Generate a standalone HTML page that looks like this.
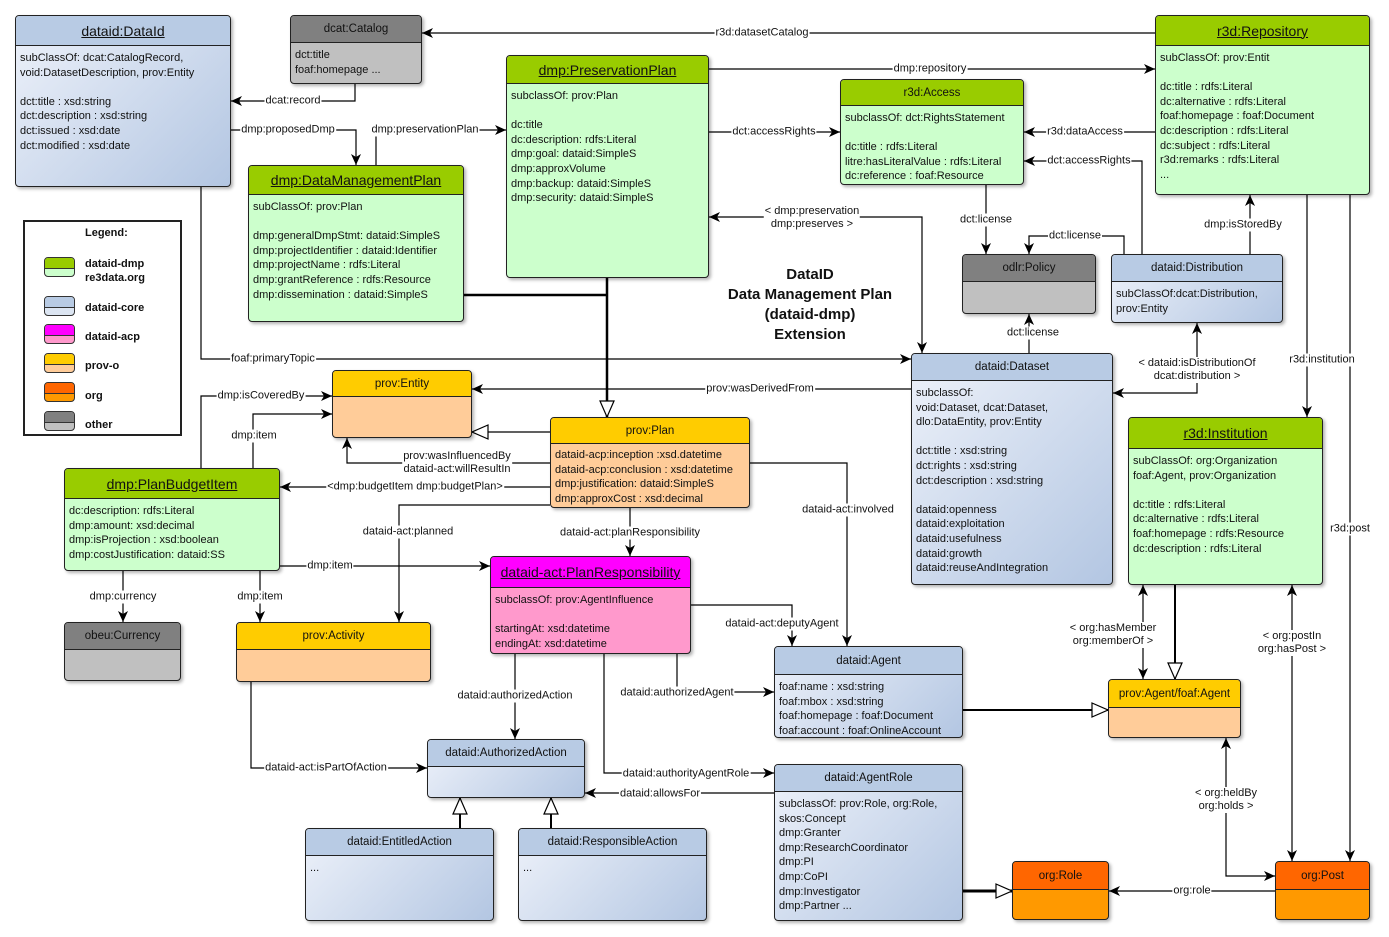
<!DOCTYPE html>
<html><head><meta charset="utf-8"><style>
body{margin:0;width:1389px;height:937px;background:#fff;position:relative;overflow:hidden;font-family:"Liberation Sans",sans-serif;font-size:11px;color:#111}
.b{position:absolute;border:1px solid #222;border-radius:4px;box-shadow:2px 2px 3px rgba(0,0,0,.3);overflow:hidden;box-sizing:border-box}
.h{border-bottom:1px solid #222;text-align:center;box-sizing:border-box;display:flex;align-items:center;justify-content:center;font-size:11.5px}
.h.big{font-size:14px;text-decoration:underline}
.c{padding:5px 4px;line-height:14.6px;white-space:nowrap}
.G .h{background:#99cc00}.G{background:#ccffcc}
.B .h{background:#b8cbe4}.B{background:linear-gradient(135deg,#eef2fa,#b3c6e2)}
.Y .h{background:#ffcc00}.Y{background:#ffcc99}
.O .h{background:#ff6600}.O{background:#ff9900}
.M .h{background:#ff00ff}.M{background:#ff99cc}
.X .h{background:#808080}.X{background:#c0c0c0}
.l{position:absolute;transform:translate(-50%,-50%);background:#fff;white-space:nowrap;text-align:center;line-height:13px;padding:0 1px}
svg{position:absolute;left:0;top:0}
.sw{position:absolute;left:44px;width:31px;height:20px;border:1px solid #333;border-radius:4px;box-sizing:border-box;overflow:hidden}
.sw i{display:block;height:10px;border-bottom:1px solid #333}
.lt{position:absolute;left:85px;font-weight:bold;font-size:11px;line-height:14px}
</style></head><body>
<svg width="1389" height="937">
<defs>
<marker id="a" markerWidth="12" markerHeight="10" refX="11" refY="5" orient="auto" markerUnits="userSpaceOnUse"><path d="M0,0 L11,5 L0,10 L3,5 Z" fill="#000"/></marker>
<marker id="s" markerWidth="12" markerHeight="10" refX="1" refY="5" orient="auto" markerUnits="userSpaceOnUse"><path d="M12,0 L1,5 L12,10 L9,5 Z" fill="#000"/></marker>
<marker id="t" markerWidth="18" markerHeight="16" refX="17" refY="8" orient="auto" markerUnits="userSpaceOnUse"><path d="M1,1 L17,8 L1,15 Z" fill="#fff" stroke="#000" stroke-width="1.2"/></marker>
</defs>
<g fill="none" stroke="#000" stroke-width="1.2">
<polyline points="1155,33 422,33" marker-end="url(#a)"/>
<polyline points="355,84 355,101 231,101" marker-end="url(#a)"/>
<polyline points="231,130 356,130 356,165" marker-end="url(#a)"/>
<polyline points="376,165 376,130 506,130" marker-end="url(#a)"/>
<polyline points="709,69 1155,69" marker-end="url(#a)"/>
<polyline points="709,132 840,132" marker-end="url(#a)"/>
<polyline points="1155,132 1024,132" marker-end="url(#a)"/>
<polyline points="1142,254 1142,161 1024,161" marker-end="url(#a)"/>
<polyline points="986,185 986,254" marker-end="url(#a)"/>
<polyline points="1124,254 1124,236 1029,236 1029,254" marker-end="url(#a)"/>
<polyline points="1029,353 1029,314" marker-end="url(#a)"/>
<polyline points="1250,254 1250,195" marker-end="url(#a)"/>
<polyline points="1197,323 1197,393 1113,393" marker-start="url(#s)" marker-end="url(#a)"/>
<polyline points="1307,195 1307,417" marker-end="url(#a)"/>
<polyline points="1350,195 1350,861" marker-end="url(#a)"/>
<polyline points="709,217 922,217 922,353" marker-start="url(#s)" marker-end="url(#a)"/>
<polyline points="201,187 201,359 911,359" marker-end="url(#a)"/>
<polyline points="911,389 472,389" marker-end="url(#a)"/>
<polyline points="550,463 347,463 347,438" marker-end="url(#a)"/>
<polyline points="201,468 201,396 332,396" marker-end="url(#a)"/>
<polyline points="253,468 253,414 332,414" marker-end="url(#a)"/>
<polyline points="550,487 280,487" marker-end="url(#a)"/>
<polyline points="550,505 399,505 399,622" marker-end="url(#a)"/>
<polyline points="630,508 630,556" marker-end="url(#a)"/>
<polyline points="750,463 847,463 847,646" marker-end="url(#a)"/>
<polyline points="280,566 490,566" marker-end="url(#a)"/>
<polyline points="123,571 123,622" marker-end="url(#a)"/>
<polyline points="260,571 260,622" marker-end="url(#a)"/>
<polyline points="691,605 792,605 792,646" marker-end="url(#a)"/>
<polyline points="515,654 515,739" marker-end="url(#a)"/>
<polyline points="677,654 677,692 774,692" marker-end="url(#a)"/>
<polyline points="604,654 604,773 774,773" marker-end="url(#a)"/>
<polyline points="774,793 585,793" marker-end="url(#a)"/>
<polyline points="251,682 251,768 427,768" marker-end="url(#a)"/>
<polyline points="1143,585 1143,679" marker-start="url(#s)" marker-end="url(#a)"/>
<polyline points="1292,585 1292,861" marker-start="url(#s)" marker-end="url(#a)"/>
<polyline points="1226,738 1226,876 1275,876" marker-start="url(#s)" marker-end="url(#a)"/>
<polyline points="1275,891 1109,891" marker-end="url(#a)"/>
<polyline points="550,432 472,432" marker-end="url(#t)"/>
<polyline points="460,828 460,798" stroke-width="2" marker-end="url(#t)"/>
<polyline points="551,828 551,798" stroke-width="2" marker-end="url(#t)"/>
<polyline points="963,710 1108,710" stroke-width="2" marker-end="url(#t)"/>
<polyline points="1175,585 1175,679" stroke-width="2" marker-end="url(#t)"/>
<polyline points="963,891 1012,891" stroke-width="3" marker-end="url(#t)"/>
<polyline points="464,295 607,295" stroke-width="2.5"/>
<polyline points="607,278 607,417" stroke-width="2.5" marker-end="url(#t)"/>
</g>
</svg>

<div class="b B" style="left:15px;top:15px;width:216px;height:172px"><div class="h big" style="height:30px">dataid:DataId</div><div class="c">subClassOf: dcat:CatalogRecord,<br>void:DatasetDescription, prov:Entity<br><br>dct:title : xsd:string<br>dct:description : xsd:string<br>dct:issued : xsd:date<br>dct:modified : xsd:date</div></div>
<div class="b X" style="left:290px;top:15px;width:132px;height:69px"><div class="h" style="height:27px">dcat:Catalog</div><div class="c">dct:title<br>foaf:homepage ...</div></div>
<div class="b G" style="left:506px;top:55px;width:203px;height:223px"><div class="h big" style="height:28px">dmp:PreservationPlan</div><div class="c">subclassOf: prov:Plan<br><br>dc:title<br>dc:description: rdfs:Literal<br>dmp:goal: dataid:SimpleS<br>dmp:approxVolume<br>dmp:backup: dataid:SimpleS<br>dmp:security: dataid:SimpleS</div></div>
<div class="b G" style="left:248px;top:165px;width:216px;height:157px"><div class="h big" style="height:29px">dmp:DataManagementPlan</div><div class="c">subClassOf: prov:Plan<br><br>dmp:generalDmpStmt: dataid:SimpleS<br>dmp:projectIdentifier : dataid:Identifier<br>dmp:projectName : rdfs:Literal<br>dmp:grantReference : rdfs:Resource<br>dmp:dissemination : dataid:SimpleS</div></div>
<div class="b G" style="left:840px;top:79px;width:184px;height:106px"><div class="h" style="height:26px">r3d:Access</div><div class="c">subclassOf: dct:RightsStatement<br><br>dc:title : rdfs:Literal<br>litre:hasLiteralValue : rdfs:Literal<br>dc:reference : foaf:Resource</div></div>
<div class="b G" style="left:1155px;top:15px;width:215px;height:180px"><div class="h big" style="height:30px">r3d:Repository</div><div class="c">subClassOf: prov:Entit<br><br>dc:title : rdfs:Literal<br>dc:alternative : rdfs:Literal<br>foaf:homepage : foaf:Document<br>dc:description : rdfs:Literal<br>dc:subject : rdfs:Literal<br>r3d:remarks : rdfs:Literal<br>...</div></div>
<div class="b X" style="left:962px;top:254px;width:134px;height:60px"><div class="h" style="height:27px">odlr:Policy</div></div>
<div class="b B" style="left:1111px;top:254px;width:172px;height:69px"><div class="h" style="height:27px">dataid:Distribution</div><div class="c">subClassOf:dcat:Distribution,<br>prov:Entity</div></div>
<div class="b B" style="left:911px;top:353px;width:202px;height:232px"><div class="h" style="height:27px">dataid:Dataset</div><div class="c">subclassOf:<br>void:Dataset, dcat:Dataset,<br>dlo:DataEntity, prov:Entity<br><br>dct:title : xsd:string<br>dct:rights : xsd:string<br>dct:description : xsd:string<br><br>dataid:openness<br>dataid:exploitation<br>dataid:usefulness<br>dataid:growth<br>dataid:reuseAndIntegration</div></div>
<div class="b Y" style="left:332px;top:370px;width:140px;height:68px"><div class="h" style="height:26px">prov:Entity</div></div>
<div class="b Y" style="left:550px;top:417px;width:200px;height:91px"><div class="h" style="height:26px">prov:Plan</div><div class="c" style="padding-top:4px">dataid-acp:inception :xsd.datetime<br>dataid-acp:conclusion : xsd:datetime<br>dmp:justification: dataid:SimpleS<br>dmp:approxCost : xsd:decimal</div></div>
<div class="b G" style="left:64px;top:468px;width:216px;height:103px"><div class="h big" style="height:30px">dmp:PlanBudgetItem</div><div class="c">dc:description: rdfs:Literal<br>dmp:amount: xsd:decimal<br>dmp:isProjection : xsd:boolean<br>dmp:costJustification: dataid:SS</div></div>
<div class="b G" style="left:1128px;top:417px;width:195px;height:168px"><div class="h big" style="height:31px">r3d:Institution</div><div class="c">subClassOf: org:Organization<br>foaf:Agent, prov:Organization<br><br>dc:title : rdfs:Literal<br>dc:alternative : rdfs:Literal<br>foaf:homepage : rdfs:Resource<br>dc:description : rdfs:Literal</div></div>
<div class="b M" style="left:490px;top:556px;width:201px;height:98px"><div class="h big" style="height:31px">dataid-act:PlanResponsibility</div><div class="c">subclassOf: prov:AgentInfluence<br><br>startingAt: xsd:datetime<br>endingAt: xsd:datetime</div></div>
<div class="b X" style="left:64px;top:622px;width:117px;height:59px"><div class="h" style="height:27px">obeu:Currency</div></div>
<div class="b Y" style="left:236px;top:622px;width:195px;height:60px"><div class="h" style="height:27px">prov:Activity</div></div>
<div class="b B" style="left:774px;top:646px;width:189px;height:92px"><div class="h" style="height:28px">dataid:Agent</div><div class="c" style="padding-top:5px">foaf:name : xsd:string<br>foaf:mbox : xsd:string<br>foaf:homepage : foaf:Document<br>foaf:account : foaf:OnlineAccount</div></div>
<div class="b Y" style="left:1108px;top:679px;width:133px;height:59px"><div class="h" style="height:28px">prov:Agent/foaf:Agent</div></div>
<div class="b B" style="left:427px;top:739px;width:158px;height:59px"><div class="h" style="height:27px">dataid:AuthorizedAction</div></div>
<div class="b B" style="left:774px;top:764px;width:189px;height:157px"><div class="h" style="height:27px">dataid:AgentRole</div><div class="c">subclassOf: prov:Role, org:Role,<br>skos:Concept<br>dmp:Granter<br>dmp:ResearchCoordinator<br>dmp:PI<br>dmp:CoPI<br>dmp:Investigator<br>dmp:Partner ...</div></div>
<div class="b B" style="left:305px;top:828px;width:189px;height:93px"><div class="h" style="height:27px">dataid:EntitledAction</div><div class="c">...</div></div>
<div class="b B" style="left:518px;top:828px;width:189px;height:93px"><div class="h" style="height:27px">dataid:ResponsibleAction</div><div class="c">...</div></div>
<div class="b O" style="left:1012px;top:861px;width:97px;height:59px"><div class="h" style="height:28px">org:Role</div></div>
<div class="b O" style="left:1275px;top:861px;width:95px;height:59px"><div class="h" style="height:28px">org:Post</div></div>

<div style="position:absolute;left:23px;top:220px;width:159px;height:216px;border:2px solid #222;box-sizing:border-box"></div>
<div style="position:absolute;left:85px;top:227px;font-weight:bold">Legend:</div>
<div class="sw" style="top:257px;background:#ccffcc"><i style="background:#99cc00"></i></div><div class="lt" style="top:257px">dataid-dmp<br>re3data.org</div>
<div class="sw" style="top:296px;background:#dce5f2"><i style="background:#b8cbe4"></i></div><div class="lt" style="top:301px">dataid-core</div>
<div class="sw" style="top:324px;background:#ff99cc"><i style="background:#ff00ff"></i></div><div class="lt" style="top:330px">dataid-acp</div>
<div class="sw" style="top:353px;background:#ffcc99"><i style="background:#ffcc00"></i></div><div class="lt" style="top:359px">prov-o</div>
<div class="sw" style="top:382px;background:#ff9900"><i style="background:#ff6600"></i></div><div class="lt" style="top:389px">org</div>
<div class="sw" style="top:411px;background:#c0c0c0"><i style="background:#808080"></i></div><div class="lt" style="top:418px">other</div>

<div style="position:absolute;left:700px;top:265px;width:220px;text-align:center;font-weight:bold;font-size:15px;line-height:20px">DataID<br>Data Management Plan<br>(dataid-dmp)<br>Extension</div>

<div class="l" style="left:762px;top:33px">r3d:datasetCatalog</div>
<div class="l" style="left:293px;top:101px">dcat:record</div>
<div class="l" style="left:288px;top:130px">dmp:proposedDmp</div>
<div class="l" style="left:425px;top:130px">dmp:preservationPlan</div>
<div class="l" style="left:930px;top:69px">dmp:repository</div>
<div class="l" style="left:774px;top:132px">dct:accessRights</div>
<div class="l" style="left:1085px;top:132px">r3d:dataAccess</div>
<div class="l" style="left:1089px;top:161px">dct:accessRights</div>
<div class="l" style="left:986px;top:220px">dct:license</div>
<div class="l" style="left:1075px;top:236px">dct:license</div>
<div class="l" style="left:1033px;top:333px">dct:license</div>
<div class="l" style="left:1243px;top:225px">dmp:isStoredBy</div>
<div class="l" style="left:1197px;top:370px">&lt; dataid:isDistributionOf<br>dcat:distribution &gt;</div>
<div class="l" style="left:1322px;top:360px">r3d:institution</div>
<div class="l" style="left:1350px;top:529px">r3d:post</div>
<div class="l" style="left:812px;top:218px">&lt; dmp:preservation<br>dmp:preserves &gt;</div>
<div class="l" style="left:273px;top:359px">foaf:primaryTopic</div>
<div class="l" style="left:760px;top:389px">prov:wasDerivedFrom</div>
<div class="l" style="left:457px;top:463px">prov:wasInfluencedBy<br>dataid-act:willResultIn</div>
<div class="l" style="left:261px;top:396px">dmp:isCoveredBy</div>
<div class="l" style="left:254px;top:436px">dmp:item</div>
<div class="l" style="left:415px;top:487px">&lt;dmp:budgetItem dmp:budgetPlan&gt;</div>
<div class="l" style="left:408px;top:532px">dataid-act:planned</div>
<div class="l" style="left:630px;top:533px">dataid-act:planResponsibility</div>
<div class="l" style="left:848px;top:510px">dataid-act:involved</div>
<div class="l" style="left:330px;top:566px">dmp:item</div>
<div class="l" style="left:123px;top:597px">dmp:currency</div>
<div class="l" style="left:260px;top:597px">dmp:item</div>
<div class="l" style="left:782px;top:624px">dataid-act:deputyAgent</div>
<div class="l" style="left:515px;top:696px">dataid:authorizedAction</div>
<div class="l" style="left:677px;top:693px">dataid:authorizedAgent</div>
<div class="l" style="left:686px;top:774px">dataid:authorityAgentRole</div>
<div class="l" style="left:660px;top:794px">dataid:allowsFor</div>
<div class="l" style="left:326px;top:768px">dataid-act:isPartOfAction</div>
<div class="l" style="left:1113px;top:635px">&lt; org:hasMember<br>org:memberOf &gt;</div>
<div class="l" style="left:1292px;top:643px">&lt; org:postIn<br>org:hasPost &gt;</div>
<div class="l" style="left:1226px;top:800px">&lt; org:heldBy<br>org:holds &gt;</div>
<div class="l" style="left:1192px;top:891px">org:role</div>
</body></html>
